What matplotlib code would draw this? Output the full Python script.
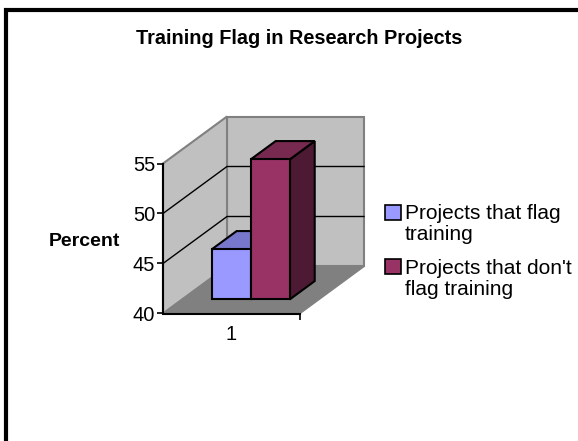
import matplotlib.pyplot as plt
from matplotlib.patches import Polygon, Rectangle

plt.rcParams['font.family'] = ['Liberation Sans', 'DejaVu Sans']

title = 'Training Flag in Research Projects'
series = ["Projects that flag\ntraining", "Projects that don't\nflag training"]
values = [45, 54]
category = ['1']
y_ticks = [40, 45, 50, 55]

face_colors = ['#9999FF', '#993366']
top_colors = ['#7777CC', '#77294F']
side_colors = ['#5C5C99', '#4D1A33']

W, H = 578, 441
fig = plt.figure(figsize=(W / 100, H / 100), dpi=100)


def fpos(x, y):
    # pixel position (from top-left) to figure fraction
    return x / W, 1 - y / H


# front plane of the 3d box, in figure pixels
left, right, top, bottom = 163, 300, 163.5, 313.5
ax = fig.add_axes([left / W, 1 - bottom / H, (right - left) / W, (bottom - top) / H])
ax.set_xlim(0, 1)
ax.set_ylim(40, 55)
ax.set_facecolor('none')

# oblique depth offset in data units (64 px right, 47 px up for full depth)
DX = 64 / (right - left)
DY = 47 / ((bottom - top) / 15)


def proj(x, v, d):
    return (x + d * DX, v + d * DY)


def poly(pts, fc, ec, lw, z):
    ax.add_patch(Polygon([proj(*p) for p in pts], closed=True, facecolor=fc,
                         edgecolor=ec, linewidth=lw, zorder=z, clip_on=False,
                         joinstyle='miter'))


y0, y1 = y_ticks[0], y_ticks[-1]
wall = '#C0C0C0'
wall_edge = '#808080'

# back wall and left side wall
poly([(0, y0, 1), (1, y0, 1), (1, y1, 1), (0, y1, 1)], wall, wall_edge, 1.5, 1)
poly([(0, y0, 0), (0, y0, 1), (0, y1, 1), (0, y1, 0)], wall, wall_edge, 1.5, 1)

# gridlines on both walls
for t in y_ticks[1:-1]:
    xs, ys = zip(proj(0, t, 0), proj(0, t, 1), proj(1, t, 1))
    ax.plot(xs, ys, color='black', lw=1, zorder=2, clip_on=False)

# floor
poly([(0, y0, 0), (1, y0, 0), (1, y0, 1), (0, y0, 1)], '#808080', '#808080', 1, 3)

# bars
bar_w = 0.285
d0, d1 = 0.3, 0.69
x_start = 0.5 - bar_w * len(values) / 2
for i, v in enumerate(values):
    xa = x_start + i * bar_w
    xb = xa + bar_w
    z = 4 + i
    poly([(xb, y0, d0), (xb, y0, d1), (xb, v, d1), (xb, v, d0)], side_colors[i], 'black', 1.5, z)
    poly([(xa, v, d0), (xb, v, d0), (xb, v, d1), (xa, v, d1)], top_colors[i], 'black', 1.5, z)
    poly([(xa, y0, d0), (xb, y0, d0), (xb, v, d0), (xa, v, d0)], face_colors[i], 'black', 1.5, z)

# axes
for s in ['top', 'right']:
    ax.spines[s].set_visible(False)
for s in ['left', 'bottom']:
    ax.spines[s].set_linewidth(1.5)
    ax.spines[s].set_zorder(10)
ax.set_yticks(y_ticks)
ax.set_yticklabels([str(t) for t in y_ticks], fontsize=14.5)
ax.set_xticks([1], minor=True)
ax.set_xticks([0.5])
ax.set_xticklabels(category, fontsize=14.5)
ax.tick_params(axis='y', length=4, width=1.2, pad=1.5)
ax.tick_params(axis='x', which='major', length=0, pad=8)
ax.tick_params(axis='x', which='minor', length=4, width=1.2)

fig.text(*fpos(84.5, 246), 'Percent', fontsize=14, fontweight='bold',
         ha='center', va='baseline')
fig.text(*fpos(299, 43.5), title, fontsize=14.3, fontweight='bold',
         ha='center', va='baseline')

# legend: colour square beside each two-line label (baseline of the last line)
leg_rows = [(204.5, 240), (258.5, 295)]
for (sq_top, base), label, c in zip(leg_rows, series, face_colors):
    sx, sy = fpos(385, sq_top + 15.5)
    fig.patches.append(Rectangle((sx, sy), 15.5 / W, 15.5 / H, transform=fig.transFigure,
                                 facecolor=c, edgecolor='black', linewidth=1.2))
    fig.text(*fpos(405, base), label, fontsize=15, ha='left', va='baseline',
             linespacing=1.15)

# chart frame (only left and top edges fall inside the image)
fig.patches.append(Rectangle((6 / W, -0.1), 1.2, 1 - 10 / H + 0.1,
                             transform=fig.transFigure, fill=False,
                             edgecolor='black', linewidth=3))

fig.savefig('out.png', dpi=100)
